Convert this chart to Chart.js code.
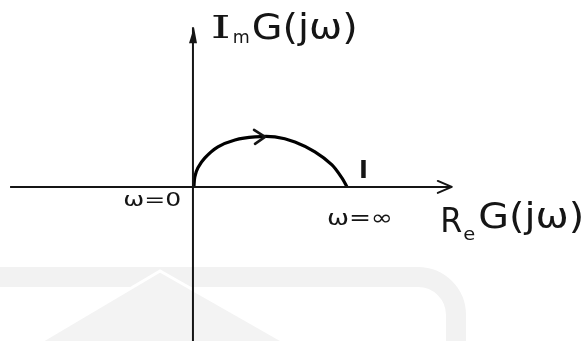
<!DOCTYPE html>
<html><head><meta charset="utf-8">
<script src="https://cdn.jsdelivr.net/npm/chart.js@4"></script>
<style>html,body{margin:0;padding:0;background:#fff}#wrap{width:586px;height:341px}</style>
</head><body><div id="wrap"><canvas id="c"></canvas></div>
<script>
// Nyquist locus G(jω) (units: end point = 1)
const curveRe = [0.006, 0.012, 0.032, 0.077, 0.161, 0.271, 0.400, 0.529, 0.658, 0.787, 0.897, 0.961, 0.994];
const curveIm = [0, 0.065, 0.123, 0.187, 0.258, 0.303, 0.323, 0.323, 0.290, 0.226, 0.142, 0.058, 0];
// axes of the complex plane
const realAxisRe = [-1.18, 1.67];
const realAxisIm = [0, 0];
const imagAxisRe = [0, 0];
const imagAxisIm = [-1.0, 1.03];
// point labels
const labelTexts = ["ω=0", "ω=∞", "I"];
const labelRe = [-0.45, 0.865, 1.1];
const labelIm = [-0.123, -0.245, 0.10];
// direction arrow on the locus
const arrowRe = [0.465];
const arrowIm = [0.323];

const toPts = (xs, ys) => xs.map((v, i) => ({x: v, y: ys[i]}));
const ink = '#151515';

function fitText(ctx, text, x, y, font, width) {
  ctx.font = font;
  const w = ctx.measureText(text).width;
  ctx.save(); ctx.translate(x, y); ctx.scale(width / w, 1);
  ctx.textAlign = 'left'; ctx.fillText(text, 0, 0); ctx.restore();
}

const overlay = {
  id: 'overlay',
  beforeDraw(chart) {
    // faint watermark of the source page
    const ctx = chart.ctx;
    ctx.save();
    ctx.strokeStyle = '#f2f2f2'; ctx.lineWidth = 20;
    ctx.beginPath(); ctx.moveTo(0, 277); ctx.lineTo(415, 277); ctx.arcTo(456, 277, 456, 320, 38); ctx.lineTo(456, 345); ctx.stroke();
    ctx.fillStyle = '#f3f3f3'; ctx.strokeStyle = '#fff'; ctx.lineWidth = 3;
    ctx.beginPath(); ctx.moveTo(160, 271); ctx.lineTo(35, 345); ctx.lineTo(290, 345); ctx.closePath(); ctx.fill(); ctx.stroke();
    ctx.restore();
  },
  afterDatasetsDraw(chart) {
    const {ctx, scales: {x, y}} = chart;
    const X = v => x.getPixelForValue(v), Y = v => y.getPixelForValue(v);
    ctx.save();
    ctx.strokeStyle = ink; ctx.fillStyle = ink; ctx.lineCap = 'round'; ctx.lineJoin = 'round';
    // arrow on real axis (open V)
    let tx = X(realAxisRe[1]), ty = Y(0);
    ctx.lineWidth = 2;
    ctx.beginPath(); ctx.moveTo(tx - 14, ty - 6); ctx.lineTo(tx, ty); ctx.lineTo(tx - 14, ty + 6); ctx.stroke();
    // arrow on imaginary axis (filled)
    tx = X(0); ty = Y(imagAxisIm[1]);
    ctx.beginPath(); ctx.moveTo(tx + 1, ty); ctx.lineTo(tx - 4, ty + 16); ctx.lineTo(tx + 4, ty + 16); ctx.closePath(); ctx.fill();
    // arrow on the locus
    tx = X(arrowRe[0]); ty = Y(arrowIm[0]);
    ctx.lineWidth = 2.6;
    ctx.beginPath(); ctx.moveTo(tx - 11, ty - 7); ctx.lineTo(tx, ty); ctx.lineTo(tx - 10, ty + 7); ctx.stroke();
    // axis titles
    ctx.textBaseline = 'alphabetic';
    let px = X(0.115), py = Y(0.962);
    fitText(ctx, 'I', px, py, '31px "DejaVu Serif"', 20);
    fitText(ctx, 'm', px + 22, py + 5, '17px "DejaVu Sans"', 17);
    fitText(ctx, 'G(jω)', px + 41, py + 1, '35px "DejaVu Sans"', 106);
    px = X(1.595); py = Y(-0.29);
    fitText(ctx, 'R', px, py, '33px "DejaVu Sans"', 22);
    fitText(ctx, 'e', px + 23, py + 8, '17px "DejaVu Sans"', 12);
    fitText(ctx, 'G(jω)', px + 38, py - 4, '35px "DejaVu Sans"', 106);
    // point labels
    fitText(ctx, labelTexts[0], X(labelRe[0]), Y(labelIm[0]), '19px "DejaVu Sans"', 58);
    fitText(ctx, labelTexts[1], X(labelRe[1]), Y(labelIm[1]), '22px "DejaVu Sans"', 66);
    ctx.textAlign = 'center'; ctx.textBaseline = 'middle';
    ctx.font = 'bold 24px "DejaVu Sans"'; ctx.fillText(labelTexts[2], X(labelRe[2]), Y(labelIm[2]));
    ctx.restore();
  }
};

new Chart(document.getElementById('c'), {
  type: 'scatter',
  data: {
    datasets: [
      {data: toPts(realAxisRe, realAxisIm), showLine: true, borderColor: ink, borderWidth: 2, pointRadius: 0},
      {data: toPts(imagAxisRe, imagAxisIm), showLine: true, borderColor: ink, borderWidth: 2, pointRadius: 0},
      {data: toPts(curveRe, curveIm), showLine: true, borderColor: '#000', borderWidth: 3.2, pointRadius: 0, tension: 0.3}
    ]
  },
  plugins: [overlay],
  options: {
    responsive: true, maintainAspectRatio: false, animation: false,
    layout: {padding: 0},
    plugins: {legend: {display: false}, tooltip: {enabled: false}},
    scales: {
      x: {type: 'linear', display: false, min: -1.245, max: 2.536},
      y: {type: 'linear', display: false, min: -0.994, max: 1.206}
    }
  }
});
</script></body></html>
